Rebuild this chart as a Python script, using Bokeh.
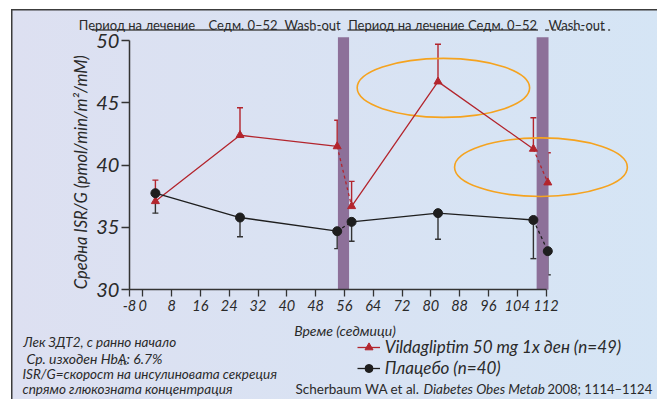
import math
from bokeh.plotting import figure
from bokeh.models import (Range1d, FixedTicker, Whisker, TeeHead, Label,
                          Legend, LegendItem, ColumnDataSource, LinearAxis)
from bokeh.embed import file_html
from bokeh.resources import INLINE

# ---------------- data ----------------
weeks = [3.5, 27, 54, 58, 82, 108.5, 112.5]
vilda_mean = [37.1, 42.4, 41.5, 36.7, 46.7, 41.3, 38.6]
vilda_upper = [38.8, 44.6, 43.6, 38.7, 49.7, 43.8, 41.0]
placebo_mean = [37.75, 35.8, 34.7, 35.45, 36.15, 35.6, 33.1]
placebo_lower = [36.15, 34.25, 33.3, 33.9, 34.05, 32.5, 31.2]
solid_runs = [(0, 3), (3, 6)]      # index slices drawn solid
dashed_runs = [(2, 4), (5, 7)]     # index slices drawn dashed (wash-out)

washout_start = [54.2, 109.4]
washout_end = [57.3, 112.7]

highlight_x = [83.5, 110.6]
highlight_y = [46.2, 39.84]
highlight_w = [47.9, 48.0]
highlight_h = [4.73, 4.7]

AXIS_START = -3.7  # broken axis: "-8" is drawn right at the axis origin
x_tick_values = [AXIS_START, 0, 8, 16, 24, 32, 40, 48, 56, 64, 72, 80, 88, 96, 104, 112]
x_tick_labels = ["-8", "0", "8", "16", "24", "32", "40", "48", "56", "64", "72",
                 "80", "88", "96", "104", "112"]
y_ticks = [30, 35, 40, 45, 50]

series_names = ["Vildagliptim 50 mg 1x ден (n=49)", "Плацебо (n=40)"]
header_texts = ["Период на лечение", "Седм. 0–52", "Wash-out",
                "Период на лечение", "Седм. 0–52", "Wash-out"]
footnotes = ["Лек ЗДТ2, с ранно начало",
             "ISR/G=скорост на инсулиновата секреция",
             "спрямо глюкозната концентрация"]

FONT = "Lato"
RED = "#b3252d"
BLACK = "#1e1e1e"
PURPLE = "#8d7099"
ORANGE = "#f5a31f"
TXT = "#2a2a2a"

W, H = 657, 399
PX_X, PX_Y = 3.6, 12.465          # pixels per week / per unit
X0_PX, Y50_PX = 142.3, 40.0       # where week 0 / value 50 sit on the canvas


def to_data(px, py):
    return (px - X0_PX) / PX_X, 50 + (Y50_PX - py) / PX_Y


p = figure(width=W, height=H, output_backend="svg", toolbar_location=None,
           x_axis_location=None, y_axis_location=None,
           x_range=Range1d(-X0_PX / PX_X, (W - X0_PX) / PX_X),
           y_range=Range1d(50 - (H - Y50_PX) / PX_Y, 50 + Y50_PX / PX_Y),
           min_border=0,
           border_fill_alpha=0, background_fill_alpha=0, outline_line_color=None,
           styles={
               "background": (
                   "linear-gradient(#3c3c3c,#3c3c3c) 11px 9px / 100% 1.5px no-repeat, "
                   "linear-gradient(#3c3c3c,#3c3c3c) 11px 9px / 1.5px 100% no-repeat, "
                   "linear-gradient(90deg,#dde0f1,#d5e5f5) 11px 9px / 100% 100% no-repeat"
               )
           })
p.grid.visible = False

xaxis = LinearAxis(fixed_location=30, bounds=(AXIS_START, 112),
                   ticker=FixedTicker(ticks=x_tick_values),
                   major_label_overrides=dict(zip(x_tick_values, x_tick_labels)),
                   major_tick_out=7, major_label_text_font_size="14.5px",
                   major_label_standoff=3)
yaxis = LinearAxis(fixed_location=AXIS_START, bounds=(30, 50),
                   ticker=FixedTicker(ticks=y_ticks),
                   major_tick_out=8, major_label_text_font_size="20px",
                   major_label_standoff=2)
for ax in (xaxis, yaxis):
    ax.axis_line_color = "#333333"
    ax.axis_line_width = 1.5
    ax.major_tick_line_color = "#333333"
    ax.major_tick_line_width = 1.3
    ax.major_tick_in = 0
    ax.minor_tick_line_color = None
    ax.major_label_text_color = TXT
    ax.major_label_text_font = FONT
    ax.major_label_text_font_style = "italic"
p.add_layout(xaxis, "below")
p.add_layout(yaxis, "left")

# header underlines (solid = treatment period, dashed = wash-out)
for x0, x1, dash in ((91.3, 308, "solid"), (310, 338.5, "4 3"),
                     (347, 537.5, "solid"), (544.6, 609.6, "4 3")):
    (dx0, dy), (dx1, _) = to_data(x0, 29.5), to_data(x1, 29.5)
    p.segment(x0=[dx0], y0=[dy], x1=[dx1], y1=[dy], line_color="#4a4a4a",
              line_width=1.5, line_dash=dash)

# wash-out bars
p.quad(left=washout_start, right=washout_end, bottom=30, top=50.26,
       fill_color=PURPLE, line_color=None)

# highlight ellipses
p.ellipse(x=highlight_x, y=highlight_y, width=highlight_w, height=highlight_h,
          fill_color=None, line_color=ORANGE, line_width=1.6)

# lines
leg_lines = {}
for ys, color, key in ((vilda_mean, RED, 0), (placebo_mean, BLACK, 1)):
    for a, b in solid_runs:
        r = p.line(weeks[a:b], ys[a:b], line_color=color, line_width=1.3)
        leg_lines.setdefault(key, r)
    for a, b in dashed_runs:
        p.line(weeks[a:b], ys[a:b], line_color=color, line_width=1.3, line_dash="3 3")

# error bars
src_v = ColumnDataSource(dict(x=weeks, lo=vilda_mean, hi=vilda_upper))
src_p = ColumnDataSource(dict(x=weeks, lo=placebo_lower, hi=placebo_mean))
p.add_layout(Whisker(source=src_v, base="x", lower="lo", upper="hi", dimension="height",
                     line_color=RED, line_width=1.4, lower_head=None,
                     upper_head=TeeHead(size=6, line_color=RED, line_width=1.4)))
p.add_layout(Whisker(source=src_p, base="x", lower="lo", upper="hi", dimension="height",
                     line_color="#333333", line_width=1.4, upper_head=None,
                     lower_head=TeeHead(size=6, line_color="#333333", line_width=1.4)))

# markers
m_v = p.scatter(weeks, vilda_mean, marker="triangle", size=8, fill_color=RED, line_color=RED)
m_p = p.scatter(weeks, placebo_mean, marker="circle", size=9, fill_color=BLACK, line_color=BLACK)

legend = Legend(items=[LegendItem(label=series_names[0], renderers=[leg_lines[0], m_v]),
                       LegendItem(label=series_names[1], renderers=[leg_lines[1], m_p])],
                location=(356.7, 21), orientation="vertical",
                glyph_width=23, glyph_height=20, label_height=20, label_standoff=5,
                spacing=0, padding=0, margin=0, border_line_color=None,
                background_fill_alpha=0,
                label_text_font=FONT, label_text_font_style="italic",
                label_text_font_size="17px", label_text_color=TXT)
p.add_layout(legend)


def text(x, y, s, size, style="normal", align="left", baseline="alphabetic", angle=0):
    p.add_layout(Label(x=x, y=y, x_units="canvas", y_units="canvas", text=s,
                       text_font=FONT, text_font_size=size, text_font_style=style,
                       text_color=TXT, text_align=align, text_baseline=baseline,
                       angle=angle))


# header
header_x = [78.3, 208, 284, 347.7, 467.5, 548]
for hx, ht in zip(header_x, header_texts):
    text(hx, 24, ht, "13px")

# axis titles
text(80, 171.7, "Средна ISR/G (pmol/min/m²/mM)", "16.5px", "italic", "center", "middle",
     math.pi / 2)
text(344.5, 330, "Време (седмици)", "14px", "italic", "center")

# footnotes
text(23, 341, footnotes[0], "13.5px", "italic")
text(26, 358, "Ср. изходен HbA", "14px", "italic")
text(118, 361, "1c", "8.5px", "italic")
text(126, 358, ": 6.7%", "14px", "italic")
text(22, 373, footnotes[1], "13.5px", "italic")
text(22, 388, footnotes[2], "13.5px", "italic")

# citation
text(295, 388, "Scherbaum WA et al.", "13.5px")
text(423, 388, "Diabetes Obes Metab", "13.5px", "italic")
text(651.7, 388, "2008; 1114–1124", "13px", "normal", "right")

open("out.html", "w").write(file_html(p, INLINE))
